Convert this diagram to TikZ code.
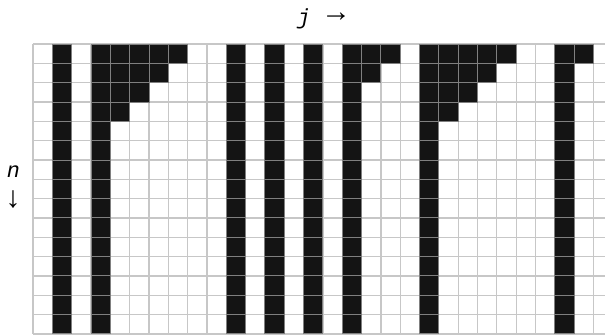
\documentclass[tikz,border=0pt]{standalone}
\usepackage{fontspec}
\newfontfamily\lblfont{Liberation Mono}
\usetikzlibrary{positioning}
\begin{document}
\begin{tikzpicture}[x=0.5cm, y=0.5cm,
  gridline/.style={draw=black!22, line width=0.8pt},
  cell/.style={fill=black!92, draw=black!50, line width=0.7pt},
  lbl/.style={inner sep=0pt, font=\lblfont\fontsize{16}{16}\selectfont},
  arrlbl/.style={inner sep=0pt, font=\lblfont\fontsize{22}{22}\selectfont}
]
  \useasboundingbox (-1.707,2.276) rectangle (29.59,-15.052);
  \draw[gridline, step=0.5cm] (0,-15) grid (29.59,0);
  \foreach \c/\s in {1/1,3/5,10/1,12/1,14/1,16/3,20/5,27/2} {
    \foreach \r in {0,...,14}
      \draw[cell] (\c,-\r) rectangle ++(1,-1);
    \pgfmathtruncatemacro{\rmax}{\s-2}
    \ifnum\s>1
      \foreach \r in {0,...,\rmax} {
        \pgfmathtruncatemacro{\kmax}{\s-1-\r}
        \foreach \k in {1,...,\kmax}
          \draw[cell] (\c+\k,-\r) rectangle ++(1,-1);
      }
    \fi
  }
  \node[lbl] (jlbl) at (14.02,1.32) {\itshape j};
  \node[arrlbl] (jarrow) at (15.68,1.40) {→};
  \node[lbl] (nlbl) at (-1.01,-6.62) {\itshape n};
  \node[arrlbl] (narrow) at (-1.03,-8.05) {↓};
\end{tikzpicture}
\end{document}
